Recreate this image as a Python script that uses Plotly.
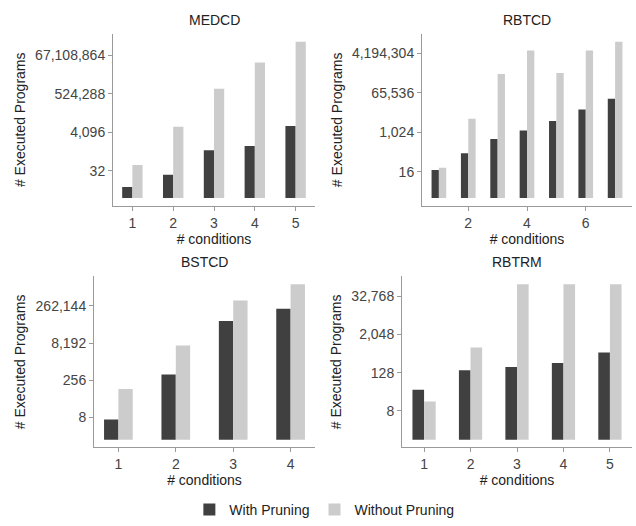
import numpy as np
import plotly.graph_objects as go

# ---- data ----
medcd_cond = [1, 2, 3, 4, 5]
medcd_with = [3, 18, 425, 730, 9000]
medcd_without = [64, 8192, 1000000, 28000000, 390000000]

rbtcd_cond = [1, 2, 3, 4, 5, 6, 7]
rbtcd_with = [18, 110, 500, 1200, 3300, 11000, 34000]
rbtcd_without = [23, 4200, 470000, 5500000, 520000, 5500000, 14000000]

bstcd_cond = [1, 2, 3, 4]
bstcd_with = [5.5, 440, 64000, 200000]
bstcd_without = [113, 6600, 435000, 2000000]

rbtrm_cond = [1, 2, 3, 4, 5]
rbtrm_with = [36, 152, 193, 256, 550]
rbtrm_without = [15, 800, 78000, 78000, 78000]

medcd_yticks = [32, 4096, 524288, 67108864]
rbtcd_yticks = [16, 1024, 65536, 4194304]
bstcd_yticks = [8, 256, 8192, 262144]
rbtrm_yticks = [8, 128, 2048, 32768]

titles = ["MEDCD", "RBTCD", "BSTCD", "RBTRM"]
series_names = ["With Pruning", "Without Pruning"]
colors = ["#404040", "#cccccc"]

W, H = 636, 526
# panel boxes in pixels (x0, x1, ytop, ybottom)
boxes = [(113, 315, 34, 207), (422, 632, 34, 207),
         (94, 315, 278, 450), (402, 632, 278, 450)]

panels = [
    (medcd_cond, medcd_with, medcd_without, medcd_yticks, 1),
    (rbtcd_cond, rbtcd_with, rbtcd_without, rbtcd_yticks, 2),
    (bstcd_cond, bstcd_with, bstcd_without, bstcd_yticks, 1),
    (rbtrm_cond, rbtrm_with, rbtrm_without, rbtrm_yticks, 1),
]

FONT = "Liberation Sans, Arial, sans-serif"
AXCOL = "#9a9a9a"
TICKCOL = "#444444"

fig = go.Figure()
layout = dict(
    width=W, height=H, margin=dict(l=0, r=0, t=0, b=0),
    paper_bgcolor="white", plot_bgcolor="white",
    barmode="group", bargap=0.5, bargroupgap=0,
    font=dict(family=FONT, size=14, color=TICKCOL),
    showlegend=True,
    legend=dict(orientation="h", x=0.51, xanchor="center", y=1 - 513 / H,
                yanchor="middle", font=dict(size=14, color="#222"),
                itemwidth=30, tracegroupgap=0),
    annotations=[],
)

for i, (cond, w, wo, yt, dt) in enumerate(panels):
    n = "" if i == 0 else str(i + 1)
    xa, ya = "x" + n, "y" + n
    x0, x1, yt0, yb = boxes[i]
    for j, vals in enumerate([w, wo]):
        fig.add_trace(go.Bar(
            x=cond, y=vals, base=1, name=series_names[j],
            marker=dict(color=colors[j], line=dict(width=0)),
            xaxis=xa, yaxis=ya, offsetgroup=str(j),
            legendgroup=series_names[j], showlegend=(i == 0),
        ))
    lo = min(cond) - 0.25
    hi = max(cond) + 0.25
    pad = 0.05 * (hi - lo)
    ymax = np.log2(max(max(w), max(wo)))
    ypad = 0.05 * ymax
    yr = [(-ypad) * np.log10(2), (ymax + ypad) * np.log10(2)]
    layout["xaxis" + n] = dict(
        domain=[x0 / W, x1 / W], anchor=ya, range=[lo - pad, hi + pad],
        tickmode="linear", tick0=0 if dt == 2 else 1, dtick=dt,
        showgrid=False, zeroline=False, showline=True, linecolor=AXCOL,
        linewidth=1, ticks="outside", ticklen=4, tickcolor=AXCOL,
        tickfont=dict(size=14, color=TICKCOL),
        title=dict(text="# conditions", font=dict(size=14, color="#222"), standoff=3),
    )
    layout["yaxis" + n] = dict(
        domain=[1 - yb / H, 1 - yt0 / H], anchor=xa, type="log", range=yr,
        tickvals=yt, tickformat=",d",
        showgrid=False, zeroline=False, showline=True, linecolor=AXCOL,
        linewidth=1, ticks="outside", ticklen=4, tickcolor=AXCOL,
        tickfont=dict(size=14, color=TICKCOL),
        title=dict(text="# Executed Programs", font=dict(size=14, color="#222"), standoff=6),
    )
    layout["annotations"].append(dict(
        text=titles[i], xref="paper", yref="paper",
        x=(x0 + x1) / 2 / W, y=1 - (yt0 - 14) / H, showarrow=False,
        xanchor="center", yanchor="middle", font=dict(size=14, color="#222"),
    ))

fig.update_layout(**layout)
fig.write_html("out.html")
